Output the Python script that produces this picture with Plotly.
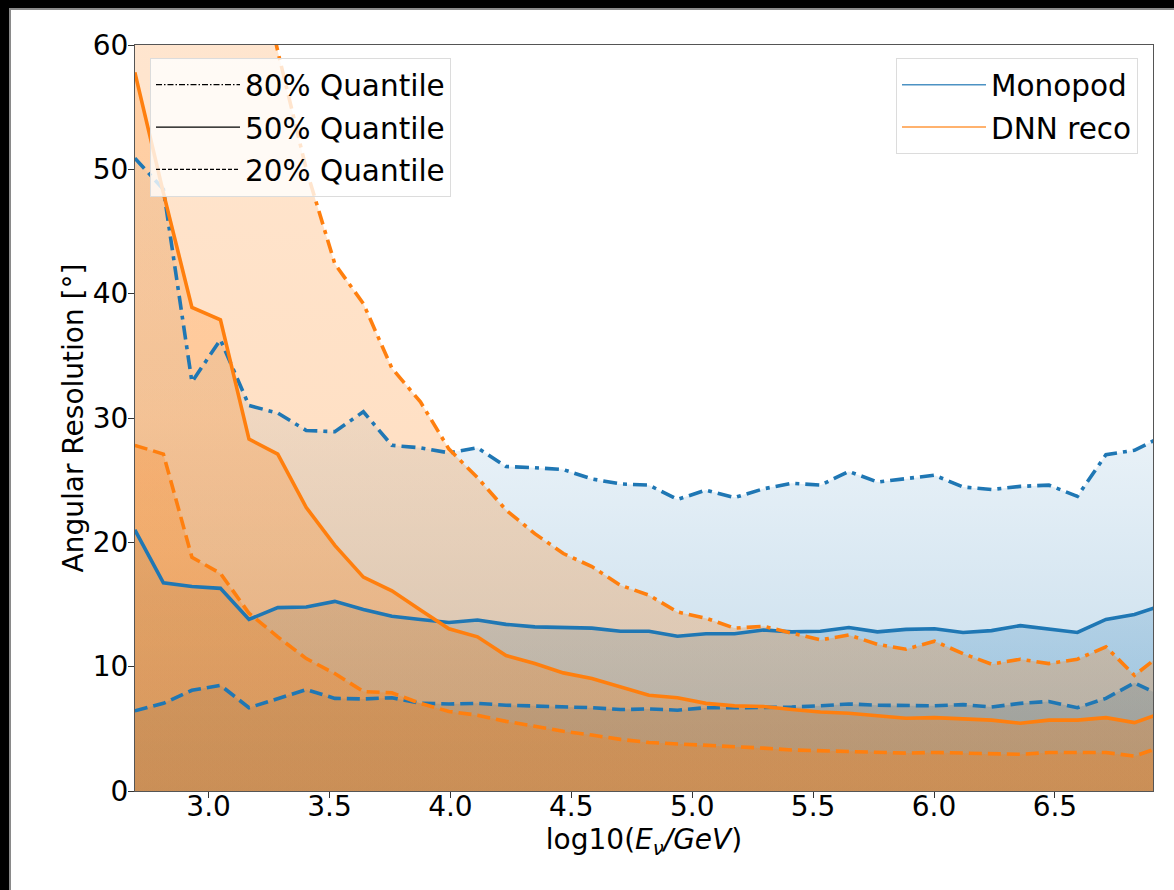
import plotly.graph_objects as go

# ---------------- data ----------------
log_e = [2.695, 2.813, 2.931, 3.049, 3.167, 3.286, 3.404, 3.522, 3.640, 3.758,
         3.876, 3.994, 4.112, 4.230, 4.349, 4.467, 4.585, 4.703, 4.821, 4.939,
         5.057, 5.175, 5.294, 5.412, 5.530, 5.648, 5.766, 5.884, 6.002, 6.120,
         6.238, 6.357, 6.475, 6.593, 6.711, 6.829, 6.947]

mono_q80 = [50.9, 48.4, 32.9, 36.3, 31.0, 30.4, 29.0, 28.9, 30.5, 27.8,
            27.6, 27.2, 27.6, 26.1, 26.0, 25.85, 25.1, 24.7, 24.6, 23.45,
            24.2, 23.6, 24.3, 24.75, 24.6, 25.7, 24.85, 25.1, 25.4, 24.45,
            24.25, 24.5, 24.6, 23.7, 27.05, 27.4, 28.55]
mono_q50 = [21.0, 16.75, 16.45, 16.3, 13.8, 14.75, 14.8, 15.25, 14.6, 14.05,
            13.8, 13.55, 13.75, 13.4, 13.2, 13.15, 13.1, 12.85, 12.85, 12.45,
            12.65, 12.65, 12.95, 12.8, 12.85, 13.15, 12.8, 13.0, 13.05, 12.75,
            12.9, 13.3, 13.05, 12.75, 13.8, 14.2, 14.95]
mono_q20 = [6.45, 7.05, 8.1, 8.5, 6.7, 7.45, 8.15, 7.45, 7.4, 7.5,
            7.05, 7.0, 7.05, 6.9, 6.85, 6.75, 6.7, 6.55, 6.6, 6.5,
            6.7, 6.7, 6.7, 6.75, 6.85, 7.0, 6.9, 6.85, 6.85, 6.95,
            6.75, 7.05, 7.2, 6.7, 7.45, 8.7, 7.6]

dnn_q80 = [105, 100, 92, 81, 70, 59.5, 50.0, 42.4, 39.2, 34.0,
           31.3, 27.5, 25.2, 22.6, 20.7, 19.1, 18.05, 16.55, 15.75, 14.4,
           13.9, 13.1, 13.25, 12.7, 12.15, 12.55, 11.8, 11.4, 12.05, 11.05,
           10.2, 10.6, 10.25, 10.6, 11.6, 9.3, 11.1]
dnn_q50 = [57.8, 48.1, 38.9, 37.9, 28.3, 27.1, 22.8, 19.75, 17.2, 16.1,
           14.55, 13.05, 12.4, 10.9, 10.25, 9.5, 9.05, 8.4, 7.7, 7.5,
           7.05, 6.85, 6.8, 6.55, 6.35, 6.25, 6.05, 5.85, 5.9, 5.8,
           5.7, 5.45, 5.7, 5.7, 5.9, 5.5, 6.3]
dnn_q20 = [27.8, 27.1, 18.8, 17.5, 14.3, 12.4, 10.65, 9.45, 8.0, 7.9,
           7.05, 6.4, 6.1, 5.6, 5.2, 4.8, 4.5, 4.15, 3.9, 3.8,
           3.65, 3.55, 3.45, 3.3, 3.25, 3.2, 3.15, 3.05, 3.1, 3.05,
           2.95, 2.95, 3.1, 3.1, 3.1, 2.8, 3.6]

x_ticks = [3.0, 3.5, 4.0, 4.5, 5.0, 5.5, 6.0, 6.5]
y_ticks = [0, 10, 20, 30, 40, 50, 60]

models = [
    ("Monopod", "#1f77b4", "31,119,180", [mono_q80, mono_q50, mono_q20],
     [[0, 0.28], [0.5, 0.09], [1, 0.04]]),
    ("DNN reco", "#ff7f0e", "255,127,14", [dnn_q80, dnn_q50, dnn_q20],
     [[0, 0.28], [1, 0.20]]),
]
quantiles = [("80% Quantile", "14px,6px,4px,6px", "6px,2px,1.5px,2px"),
             ("50% Quantile", "solid", "solid"),
             ("20% Quantile", "13px,6px", "4px,2px")]

fig = go.Figure()

# gradient fills (drawn first, under every line)
for name, color, rgb, qs, stops in models:
    for series in qs:
        fig.add_trace(go.Scatter(
            x=log_e, y=series, mode="none", fill="tozeroy",
            fillgradient=dict(type="vertical", start=0, stop=60,
                              colorscale=[[s, f"rgba({rgb},{a})"] for s, a in stops]),
            showlegend=False, hoverinfo="skip"))

# quantile lines
for name, color, rgb, qs, stops in models:
    for (qname, dash, _), series in zip(quantiles, qs):
        fig.add_trace(go.Scatter(
            x=log_e, y=series, mode="lines",
            line=dict(color=color, width=3.6, dash=dash),
            showlegend=False, hoverinfo="skip"))

# legend entries: line styles
for i, (qname, _, ldash) in enumerate(quantiles):
    fig.add_trace(go.Scatter(x=[None], y=[None], mode="lines", name=qname,
                             line=dict(color="black", width=1.3, dash=ldash),
                             legend="legend", legendgroup=f"q{i}"))
# legend entries: models
for i, (name, color, rgb, qs, stops) in enumerate(models):
    fig.add_trace(go.Scatter(x=[None], y=[None], mode="lines", name=name,
                             line=dict(color=color, width=1.6),
                             legend="legend2", legendgroup=f"m{i}", opacity=0.8))

L, R, T, B = 135, 1153, 45, 791
W, H = 1174, 890
pw, ph = R - L, B - T

axis_common = dict(
    showgrid=False, zeroline=False, showline=True, linecolor="#555",
    linewidth=1.2, mirror=True, ticks="outside", ticklen=6, tickwidth=1.2,
    tickcolor="#333", automargin=False,
    tickfont=dict(family="DejaVu Sans", size=28, color="black"),
)

legend_common = dict(
    bgcolor="rgba(255,255,255,0.8)", bordercolor="#dcdcdc", borderwidth=1,
    font=dict(family="DejaVu Sans", size=29.5, color="black"),
    yanchor="top", itemwidth=84, tracegroupgap=1,
)

fig.update_layout(
    template="none",
    width=W, height=H,
    margin=dict(l=L, r=W - R, t=T, b=H - B, pad=0),
    paper_bgcolor="black",
    plot_bgcolor="white",
    font=dict(family="DejaVu Sans", size=28, color="black"),
    xaxis=dict(range=[2.6956, 6.9057], tickvals=x_ticks,
               ticktext=[f"{v:.1f}" for v in x_ticks],
               ticklabelstandoff=-16,
               title=dict(text="log10(<i>E<sub>ν</sub>/GeV</i>)", standoff=6,
                          font=dict(size=28)),
               **axis_common),
    yaxis=dict(range=[0, 60], tickvals=y_ticks,
               ticktext=[str(v) for v in y_ticks],
               ticklabelstandoff=-6,
               title=dict(text="Angular Resolution [°]", standoff=0,
                          font=dict(size=28)),
               **axis_common),
    legend=dict(x=(150 - L) / pw, y=(B - 58) / ph, xanchor="left", **legend_common),
    legend2=dict(x=(1138 - L) / pw, y=(B - 58) / ph, xanchor="right", **legend_common),
    shapes=[dict(type="rect", xref="paper", yref="paper", layer="below",
                 x0=(10 - L) / pw, x1=1.1, y0=-0.3, y1=(B - 9) / ph,
                 fillcolor="white", line=dict(color="#8a8a8a", width=2))],
    showlegend=True,
)

fig.write_html("out.html")
